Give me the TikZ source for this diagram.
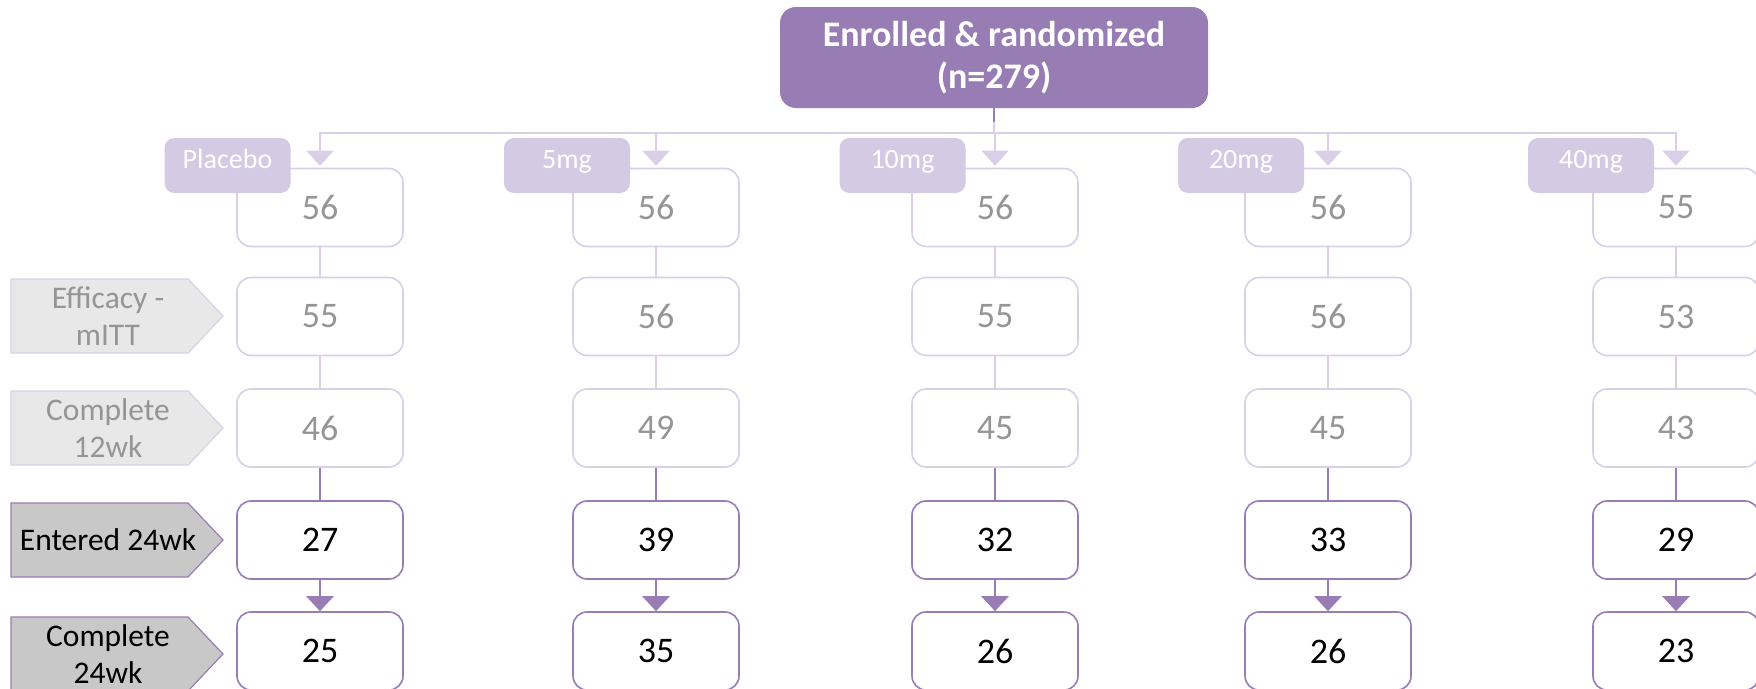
\documentclass[tikz,border=0pt]{standalone}
\usepackage{fontspec}
\setmainfont{Carlito}
\usetikzlibrary{arrows.meta}
\definecolor{purp}{HTML}{977DB4}
\definecolor{fadep}{HTML}{D4CAE3}
\definecolor{fadeb}{HTML}{D9D0E7}
\definecolor{fadet}{HTML}{959595}
\definecolor{lblgray}{HTML}{C8C8C8}
\definecolor{lblfade}{HTML}{E8E8E8}
\begin{document}
\begin{tikzpicture}[x=1pt,y=-1pt,
  numbox/.style={draw=purp, line width=1.6pt, rounded corners=14pt, fill=white,
    minimum width=166pt, minimum height=78pt, inner sep=0pt,
    font=\fontsize{36}{40}\selectfont},
  fadebox/.style={numbox, draw=fadeb, text=fadet},
  tagbox/.style={fill=fadep, rounded corners=10pt, minimum width=126pt,
    minimum height=55pt, inner sep=0pt, text=white,
    text height=0.68em, text depth=0pt, font=\fontsize{28}{32}\selectfont},
  topbox/.style={fill=purp, rounded corners=16pt, minimum width=428pt,
    minimum height=101pt, inner sep=0pt, text=white, align=center,
    font=\fontsize{36}{42}\selectfont\bfseries},
  fadeline/.style={draw=fadeb, line width=1.6pt},
  fadearrow/.style={fadeline, -{Triangle[width=27pt,length=15pt]}, shorten >=2pt},
  solidline/.style={draw=purp, line width=2.6pt},
  solidarrow/.style={solidline, -{Triangle[width=27pt,length=15pt]}},
  lblshape/.style={fill=lblgray, draw=purp, line width=1.2pt},
  lblfadeshape/.style={fill=lblfade, draw=fadeb, line width=1.2pt},
  lbltext/.style={align=center, font=\fontsize{31.5}{37}\selectfont},
]
\useasboundingbox (0,0) rectangle (1756,688);

% top node
\node[topbox] (top) at (994,57.5) {Enrolled \& randomized\\(n=279)};
\coordinate (bus) at (994,133);

% column data: center x
\def\cols{1/320/56/55/46/27/25,2/656/56/56/49/39/35,3/995/56/55/45/32/26,4/1328/56/56/45/33/26,5/1676/55/53/43/29/23}

\foreach \c/\x/\a/\b/\d/\e/\f in \cols {
  \node[fadebox] (r1-\c) at (\x,207.5) {\a};
  \node[fadebox] (r2-\c) at (\x,316.5) {\b};
  \node[fadebox] (r3-\c) at (\x,428) {\d};
  \node[numbox]  (r4-\c) at (\x,540) {\e};
  \node[numbox]  (r5-\c) at (\x,651) {\f};
  \draw[fadeline] (r1-\c.south) -- (r2-\c.north);
  \draw[fadeline] (r2-\c.south) -- (r3-\c.north);
  \draw[solidline] (r3-\c.south) -- (r4-\c.north);
  \draw[solidarrow] (r4-\c.south) -- (r5-\c.north);
  \draw[fadearrow] (top.south) -- (bus) -| (r1-\c.north);
}
\draw[solidline] (top.south) -- ++(0,14);

% tags
\node[tagbox] (t1) at (227.5,165.5) {Placebo};
\node[tagbox] (t2) at (567,165.5) {5mg};
\node[tagbox] (t3) at (902.5,165.5) {10mg};
\node[tagbox] (t4) at (1241,165.5) {20mg};
\node[tagbox] (t5) at (1591,165.5) {40mg};

% left labels
\draw[lblfadeshape] (11,279) -- (188,279) -- (223,316) -- (188,353) -- (11,353) -- cycle;
\node[lbltext, text=fadet] (l1) at (108,316) {Efficacy -\\mITT};
\draw[lblfadeshape] (11,391) -- (188,391) -- (223,428) -- (188,465) -- (11,465) -- cycle;
\node[lbltext, text=fadet] (l2) at (108,428) {Complete\\12wk};
\draw[lblshape] (11,503) -- (188,503) -- (223,540) -- (188,577) -- (11,577) -- cycle;
\node[lbltext] (l3) at (108,540) {Entered 24wk};
\draw[lblshape] (11,617) -- (188,617) -- (223,654) -- (188,691) -- (11,691) -- cycle;
\node[lbltext] (l4) at (108,654) {Complete\\24wk};
\end{tikzpicture}
\end{document}
